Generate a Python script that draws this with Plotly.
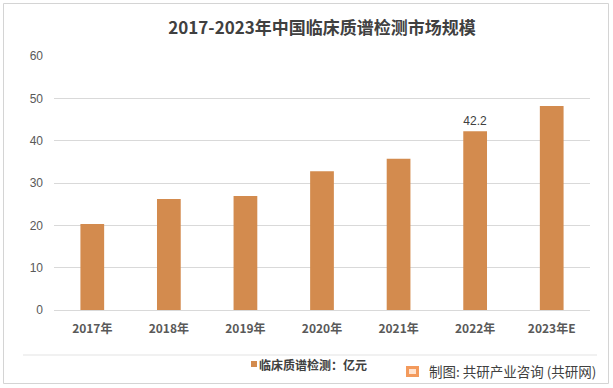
import plotly.graph_objects as go

categories = ["2017年", "2018年", "2019年", "2020年", "2021年", "2022年", "2023年E"]
values = [20.3, 26.2, 26.9, 32.8, 35.7, 42.2, 48.2]
label_texts = ["", "", "", "", "", "42.2", ""]
series_name = "临床质谱检测：亿元"
title_text = "2017-2023年中国临床质谱检测市场规模"
source_text = "制图: 共研产业咨询 (共研网)"
y_ticks = [0, 10, 20, 30, 40, 50, 60]
bar_color = "#D38B4E"

W, H = 613, 388
ml, mr, mt, mb = 54, 23, 56, 78
ph = H - mt - mb
pw = W - ml - mr

def px_x(x):
    return (x - ml) / pw

def px_y(y):
    return (H - mb - y) / ph

fig = go.Figure()
fig.add_trace(go.Bar(
    x=categories, y=values, name=series_name,
    marker=dict(color=bar_color, line=dict(width=0)),
    text=label_texts, textposition="outside",
    textfont=dict(size=12, color="#404040", family="Liberation Sans, Arial"),
    cliponaxis=False, showlegend=False,
))

fig.update_layout(
    width=W, height=H,
    margin=dict(l=ml, r=mr, t=mt, b=mb),
    paper_bgcolor="white", plot_bgcolor="white",
    bargap=0.69,
    font=dict(family="Noto Sans CJK SC, Liberation Sans, sans-serif", color="#595959"),
    title=dict(text="<b>" + title_text + "</b>", x=0.5, xref="paper", xanchor="center",
               y=1 - 28 / H, yanchor="middle",
               font=dict(size=17, color="#404040", family="Noto Sans CJK SC, sans-serif")),
    showlegend=False,
    xaxis=dict(showgrid=False, showline=True, linecolor="#D9D9D9", linewidth=1,
               ticks="", tickfont=dict(size=12, color="#595959", weight="bold",
                                       family="Noto Sans CJK SC, sans-serif"),
               ticklabelstandoff=8),
    yaxis=dict(range=[0, 60], tickvals=y_ticks, showgrid=True, gridcolor="#D9D9D9",
               gridwidth=1, zeroline=False, showline=False, ticks="",
               tickfont=dict(size=12, color="#595959", family="Liberation Sans, Arial"),
               ticklabelstandoff=10),
)

# outer border
fig.add_shape(type="rect", xref="paper", yref="paper",
              x0=px_x(3.5), x1=px_x(608.5), y0=px_y(383.5), y1=px_y(3.5),
              line=dict(color="#D4D4D4", width=1), fillcolor="rgba(0,0,0,0)", layer="below")
# separator line above legend
fig.add_shape(type="line", xref="paper", yref="paper",
              x0=px_x(23), x1=px_x(597), y0=px_y(355), y1=px_y(355),
              line=dict(color="#E3E3E3", width=1))

# legend marker + series name
fig.add_shape(type="rect", xref="paper", yref="paper",
              x0=px_x(251), x1=px_x(257), y0=px_y(367), y1=px_y(361),
              line=dict(width=0), fillcolor=bar_color)
fig.add_annotation(xref="paper", yref="paper", x=px_x(257), y=px_y(364),
                   xanchor="left", yanchor="middle", showarrow=False,
                   text=series_name,
                   font=dict(size=12, color="#404040", weight="bold",
                             family="Noto Sans CJK SC, sans-serif"))

# source with small logo
fig.add_shape(type="rect", xref="paper", yref="paper",
              x0=px_x(406), x1=px_x(419), y0=px_y(377), y1=px_y(366),
              line=dict(width=0), fillcolor="#F39A5C")
fig.add_shape(type="rect", xref="paper", yref="paper",
              x0=px_x(409), x1=px_x(416), y0=px_y(374), y1=px_y(369),
              line=dict(width=0), fillcolor="#FFE3CF")
fig.add_annotation(xref="paper", yref="paper", x=px_x(427), y=px_y(371),
                   xanchor="left", yanchor="middle", showarrow=False,
                   text=source_text,
                   font=dict(size=13.5, color="#404040", family="Noto Sans CJK SC, sans-serif"))

fig.write_html("out.html", config={"displayModeBar": False},
               post_script="document.body.style.margin='0';document.body.style.overflow='hidden';")
